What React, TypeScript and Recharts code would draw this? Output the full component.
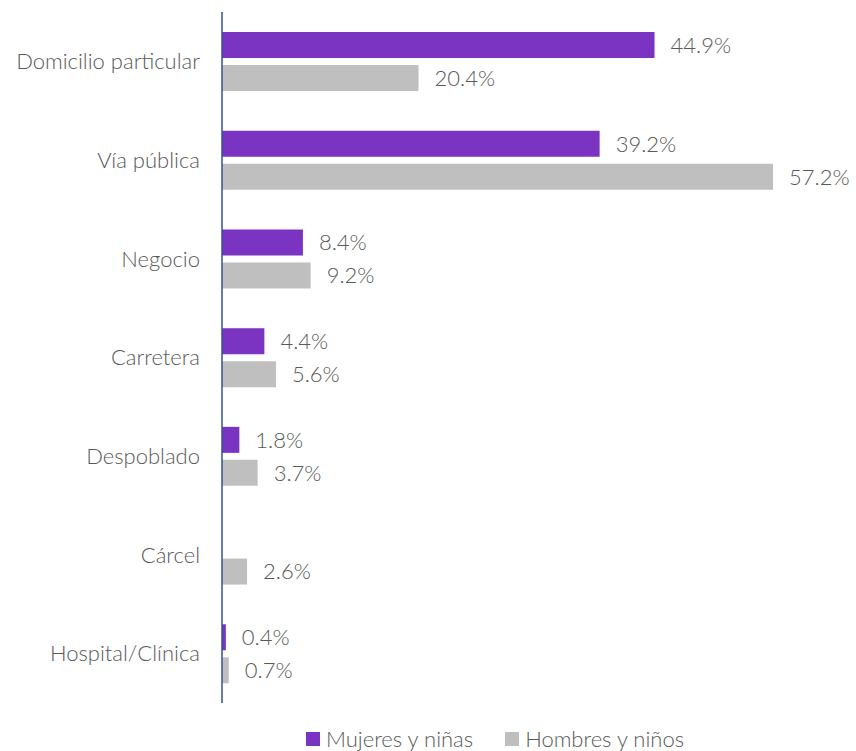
import React from 'react';
import { BarChart, Bar, XAxis, YAxis, LabelList, Legend } from 'recharts';

const categories = ['Domicilio particular', 'Vía pública', 'Negocio', 'Carretera', 'Despoblado', 'Cárcel', 'Hospital/Clínica'];
const mujeres: (number | null)[] = [44.9, 39.2, 8.4, 4.4, 1.8, null, 0.4];
const hombres: number[] = [20.4, 57.2, 9.2, 5.6, 3.7, 2.6, 0.7];

const PURPLE = '#7B33C2';
const GRAY = '#BFBFBF';
const TEXT = '#595959';
const FONT = 'Lato, "Open Sans", sans-serif';
const FS = 22;

const data = categories.map((name, i) => ({ name, mujeres: mujeres[i], hombres: hombres[i] }));

const fmt = (v: any) => (v === null || v === undefined ? '' : `${Number(v).toFixed(1)}%`);

const LegendContent = () => (
  <div style={{ display: 'flex', justifyContent: 'center', fontFamily: FONT, fontWeight: 300, fontSize: FS, color: TEXT, paddingLeft: 190, lineHeight: '24px' }}>
    <span style={{ display: 'flex', alignItems: 'center', marginRight: 32 }}>
      <span style={{ width: 14, height: 14, background: PURPLE, marginRight: 6, display: 'inline-block' }} />
      Mujeres y niñas
    </span>
    <span style={{ display: 'flex', alignItems: 'center' }}>
      <span style={{ width: 14, height: 14, background: GRAY, marginRight: 6, display: 'inline-block' }} />
      Hombres y niños
    </span>
  </div>
);

export default function App() {
  return (
    <div style={{ position: 'absolute', left: 0, top: 0, background: '#fff' }}>
      <BarChart
        width={856}
        height={751}
        data={data}
        layout="vertical"
        margin={{ top: 12, right: 56, bottom: 24, left: 0 }}
        barSize={26}
        barGap={7}
      >
        <XAxis type="number" domain={[0, 60]} hide />
        <YAxis
          type="category"
          dataKey="name"
          width={222}
          tickLine={false}
          tickSize={0}
          tickMargin={22}
          axisLine={{ stroke: '#2F5496', strokeWidth: 1.5 }}
          tick={{ fill: TEXT, fontSize: FS, fontFamily: FONT, fontWeight: 300 }}
        />
        <Legend verticalAlign="bottom" height={24} content={<LegendContent />} wrapperStyle={{ bottom: 0 }} />
        <Bar dataKey="mujeres" fill={PURPLE} isAnimationActive={false}>
          <LabelList dataKey="mujeres" position="right" offset={16} formatter={fmt} fill={TEXT} fontSize={FS} fontFamily={FONT} fontWeight={300} />
        </Bar>
        <Bar dataKey="hombres" fill={GRAY} isAnimationActive={false}>
          <LabelList dataKey="hombres" position="right" offset={16} formatter={fmt} fill={TEXT} fontSize={FS} fontFamily={FONT} fontWeight={300} />
        </Bar>
      </BarChart>
    </div>
  );
}
